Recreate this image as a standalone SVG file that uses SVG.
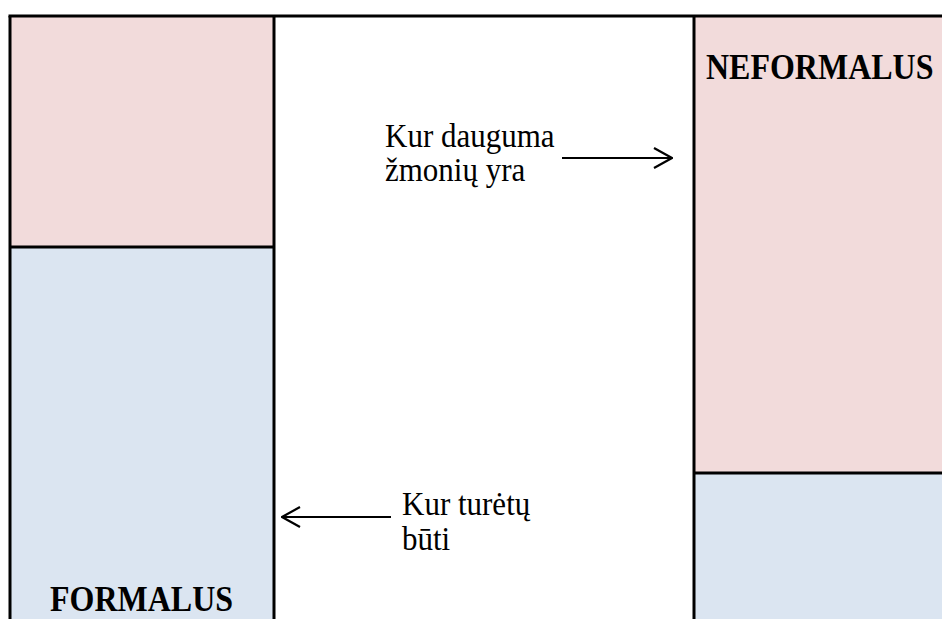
<svg xmlns="http://www.w3.org/2000/svg" width="942" height="619" viewBox="0 0 942 619">
  <style>
    .pink { fill: #F2DBDB; }
    .blue { fill: #DBE5F1; }
    .rule { stroke: #000; stroke-width: 3; fill: none; }
    .head { font-family: "Liberation Serif", "Times New Roman", serif; font-weight: bold; font-size: 32px; fill: #000; }
    .note { font-family: "Liberation Serif", "Times New Roman", serif; font-size: 31px; fill: #000; }
    .conn { stroke: #000; stroke-width: 2.2; fill: none; }
  </style>
  <defs>
    <marker id="chev" viewBox="0 0 20 22" refX="19" refY="11" markerWidth="20" markerHeight="22" markerUnits="userSpaceOnUse" orient="auto">
      <path d="M1,1 L19,11 L1,21" fill="none" stroke="#000" stroke-width="2.2"/>
    </marker>
  </defs>
  <rect width="942" height="619" fill="#fff"/>

  <!-- left column: formal -->
  <g id="formalus">
    <rect class="pink" x="10" y="16" width="264" height="231"/>
    <rect class="blue" x="10" y="247" width="264" height="372"/>
    <path class="rule" d="M10,16 V619 M274,16 V619 M10,247 H274"/>
    <text class="head" transform="translate(50 611) scale(1 1.1)">FORMALUS</text>
  </g>

  <!-- right column: informal -->
  <g id="neformalus">
    <rect class="pink" x="694" y="16" width="248" height="457"/>
    <rect class="blue" x="694" y="473" width="248" height="146"/>
    <path class="rule" d="M694,16 V619 M694,473 H942"/>
    <text class="head" transform="translate(706 79) scale(1 1.1)">NEFORMALUS</text>
  </g>

  <!-- top rule across the table -->
  <path class="rule" d="M8.5,16 H942"/>

  <g id="label-now">
    <text class="note" transform="translate(385 147) scale(1 1.1)">Kur dauguma</text>
    <text class="note" transform="translate(385 181) scale(1 1.1)">žmonių yra</text>
  </g>
  <g id="label-should">
    <text class="note" transform="translate(402 515) scale(1 1.1)">Kur turėtų</text>
    <text class="note" transform="translate(402 550) scale(1 1.1)">būti</text>
  </g>

  <g id="connectors">
    <line class="conn" x1="562" y1="158" x2="672" y2="158" marker-end="url(#chev)"/>
    <line class="conn" x1="391" y1="517" x2="282" y2="517" marker-end="url(#chev)"/>
  </g>
</svg>
